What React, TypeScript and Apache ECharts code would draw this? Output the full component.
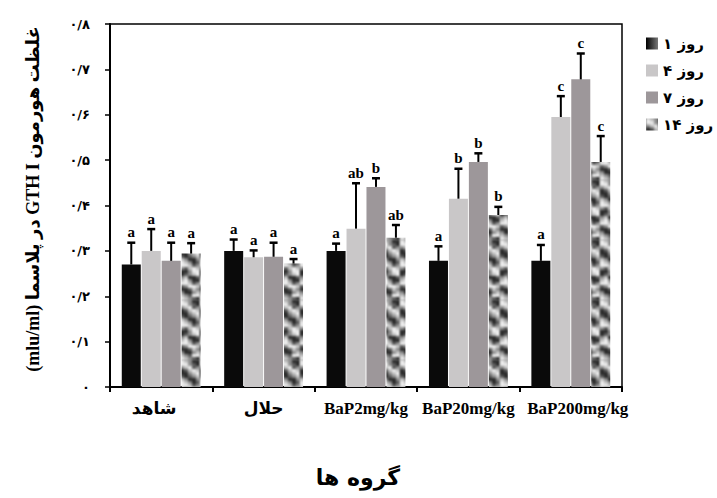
import React, { useEffect, useRef } from "react";
import * as echarts from "echarts";

const categories = ["شاهد", "حلال", "BaP2mg/kg", "BaP20mg/kg", "BaP200mg/kg"];
const seriesNames = ["روز ۱", "روز ۴", "روز ۷", "روز ۱۴"];
const yTickLabels = ["۰", "۰/۱", "۰/۲", "۰/۳", "۰/۴", "۰/۵", "۰/۶", "۰/۷", "۰/۸"];

const day1 = [0.27, 0.3, 0.3, 0.278, 0.278];
const day4 = [0.3, 0.286, 0.349, 0.415, 0.595];
const day7 = [0.278, 0.287, 0.441, 0.496, 0.678];
const day14 = [0.294, 0.272, 0.329, 0.379, 0.496];

const err1 = [0.048, 0.025, 0.016, 0.032, 0.035];
const err4 = [0.048, 0.015, 0.1, 0.066, 0.046];
const err7 = [0.04, 0.031, 0.019, 0.019, 0.057];
const err14 = [0.023, 0.01, 0.028, 0.018, 0.057];

const letters1 = ["a", "a", "a", "a", "a"];
const letters4 = ["a", "a", "ab", "b", "c"];
const letters7 = ["a", "a", "b", "b", "c"];
const letters14 = ["a", "a", "ab", "b", "c"];

const values = [day1, day4, day7, day14];
const errors = [err1, err4, err7, err14];
const letters = [letters1, letters4, letters7, letters14];

const BAR_W = 19;
const BAR_GAP = 0.05;

const TEXTURE_ROWS = [
  "LlmDD",
  "LLmdD",
  "mlLdm",
  "DdlLl",
  "DDmlL",
  "dDdml",
  "lmDDm",
  "LlmDd",
  "LLldm",
  "mdlLl",
  "DDmLL",
  "DdmlL",
  "mlDDd",
  "lLmDD",
  "LLldm",
  "dmLLl",
  "DDdlm",
  "mDDml",
  "lmdLL",
  "LlmdD",
];
const SHADES: Record<string, string> = {
  D: "#2c2c2c",
  d: "#5c5c5c",
  m: "#8e8e8e",
  l: "#c4c4c4",
  L: "#ececec",
};

function makePattern(): HTMLCanvasElement {
  const cw = 4;
  const ch = 3;
  const w = TEXTURE_ROWS[0].length * cw;
  const h = TEXTURE_ROWS.length * ch;
  const raw = document.createElement("canvas");
  raw.width = w;
  raw.height = h;
  const g = raw.getContext("2d")!;
  TEXTURE_ROWS.forEach((row, r) => {
    for (let c = 0; c < row.length; c++) {
      g.fillStyle = SHADES[row[c]];
      g.fillRect(c * cw, r * ch, cw, ch);
    }
  });
  const out = document.createElement("canvas");
  out.width = w;
  out.height = h;
  const o = out.getContext("2d")!;
  o.fillStyle = "#8e8e8e";
  o.fillRect(0, 0, w, h);
  (o as any).filter = "blur(0.8px)";
  for (let dx = -1; dx <= 1; dx++) {
    for (let dy = -1; dy <= 1; dy++) {
      o.drawImage(raw, dx * w, dy * h);
    }
  }
  return out;
}

export default function App() {
  const ref = useRef<HTMLDivElement>(null);
  useEffect(() => {
    if (!ref.current) return;
    const chart = echarts.init(ref.current, undefined, { renderer: "svg" });
    const pattern = { image: makePattern(), repeat: "repeat" as const };
    const colors: any[] = ["#0a0a0a", "#c9c7c8", "#9d979a", pattern];
    const faFont = "DejaVu Sans";
    const serif = "Liberation Serif";

    const errData: number[][] = [];
    for (let s = 0; s < 4; s++) {
      for (let i = 0; i < categories.length; i++) {
        errData.push([i, s, values[s][i], values[s][i] + errors[s][i]]);
      }
    }

    const barSeries = values.map((v, s) => ({
      type: "bar",
      name: seriesNames[s],
      data: v,
      barWidth: BAR_W,
      barGap: BAR_GAP * 100 + "%",
      itemStyle: { color: colors[s] },
      z: 2,
    }));

    const option: any = {
      animation: false,
      backgroundColor: "#ffffff",
      grid: {
        left: 110,
        right: 95,
        top: 24,
        bottom: 111,
        show: true,
        borderColor: "#000",
        borderWidth: 1.5,
      },
      legend: {
        orient: "vertical",
        left: 641,
        top: 31,
        itemWidth: 12,
        itemHeight: 12,
        itemGap: 12,
        icon: "rect",
        textStyle: { fontFamily: faFont, fontWeight: "bold", fontSize: 15, color: "#000" },
        data: seriesNames.map((n, s) =>
          s === 0
            ? {
                name: n,
                itemStyle: {
                  color: new echarts.graphic.LinearGradient(0, 0, 1, 0, [
                    { offset: 0, color: "#000" },
                    { offset: 1, color: "#777" },
                  ]),
                },
              }
            : { name: n }
        ),
      },
      xAxis: {
        type: "category",
        data: categories.map((c, i) =>
          i === 4
            ? { value: c, textStyle: { padding: [0, 0, 0, 14] } }
            : i === 0
            ? { value: c, textStyle: { padding: [0, 14, 0, 0] } }
            : c
        ),
        axisLine: { lineStyle: { color: "#000", width: 2 } },
        axisTick: { show: true, length: 5, lineStyle: { color: "#000", width: 2 } },
        axisLabel: {
          interval: 0,
          margin: 13,
          color: "#000",
          fontWeight: "bold",
          fontSize: 17,
          fontFamily: `"${serif}", "${faFont}"`,
        },
      },
      yAxis: {
        type: "value",
        min: 0,
        max: 0.8,
        interval: 0.1,
        splitLine: { show: false },
        axisLine: { show: true, lineStyle: { color: "#000", width: 2 } },
        axisTick: { show: true, length: 5, lineStyle: { color: "#000", width: 1.5 } },
        axisLabel: {
          margin: 20,
          color: "#000",
          fontWeight: "bold",
          fontSize: 13,
          fontFamily: faFont,
          formatter: (v: number) => yTickLabels[Math.round(v * 10)],
        },
      },
      graphic: [
        {
          type: "text",
          x: 33,
          y: 199,
          rotation: Math.PI / 2,
          style: {
            text: "(mlu/ml) در پلاسما GTH I غلظت هورمون",
            font: `bold 18px "${serif}", "${faFont}"`,
            fill: "#000",
            align: "center",
            verticalAlign: "middle",
          },
        },
        {
          type: "text",
          x: 358,
          y: 477,
          style: {
            text: "گروه ها",
            font: `bold 22px "${faFont}"`,
            fill: "#000",
            align: "center",
            verticalAlign: "middle",
          },
        },
      ],
      series: [
        ...barSeries,
        {
          type: "custom",
          data: errData,
          z: 5,
          renderItem: (params: any, api: any) => {
            const cat = api.value(0);
            const s = api.value(1);
            const val = api.value(2);
            const top = api.value(3);
            const gap = BAR_W * BAR_GAP;
            const total = 4 * BAR_W + 3 * gap;
            const cx = api.coord([cat, 0])[0] - total / 2 + s * (BAR_W + gap) + BAR_W / 2;
            const y0 = api.coord([cat, val])[1];
            const y1 = api.coord([cat, top])[1];
            return {
              type: "group",
              children: [
                { type: "line", shape: { x1: cx, y1: y0, x2: cx, y2: y1 }, style: { stroke: "#000", lineWidth: 2 } },
                { type: "line", shape: { x1: cx - 4, y1: y1, x2: cx + 4, y2: y1 }, style: { stroke: "#000", lineWidth: 2.5 } },
                {
                  type: "text",
                  x: cx,
                  y: y1 - 3,
                  style: {
                    text: letters[s][cat],
                    font: `bold 15px "${serif}"`,
                    fill: "#000",
                    align: "center",
                    verticalAlign: "bottom",
                  },
                },
              ],
            };
          },
        },
      ],
    };
    chart.setOption(option);
    return () => chart.dispose();
  }, []);
  return (
    <div
      ref={ref}
      style={{ position: "fixed", left: 0, top: 0, width: 717, height: 498, background: "#fff" }}
    />
  );
}
